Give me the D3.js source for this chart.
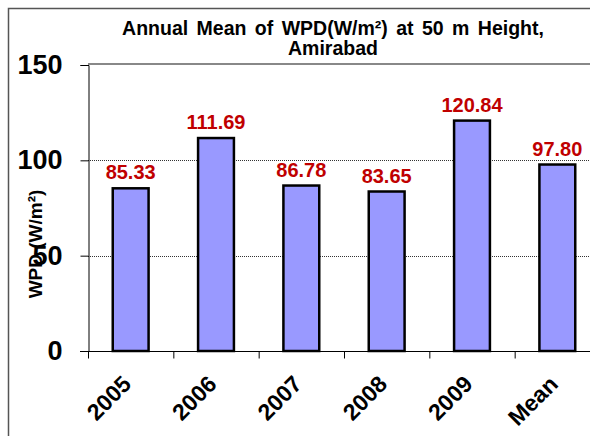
<!DOCTYPE html>
<html>
<head>
<meta charset="utf-8">
<script src="https://cdn.jsdelivr.net/npm/d3@7"></script>
<style>
  body { margin: 0; background: #fff; }
  text { font-family: "Liberation Sans", Arial, sans-serif; font-weight: bold; }
</style>
</head>
<body>
<svg></svg>
<script>
const categories = ["2005", "2006", "2007", "2008", "2009", "Mean"];
const wpdValues = [85.33, 111.69, 86.78, 83.65, 120.84, 97.80];
const yTicks = [0, 50, 100, 150];
const titleLines = ["Annual Mean of WPD(W/m²) at 50 m Height,", "Amirabad"];

const width = 590;
const height = 436;
const plotLeft = 88, plotTop = 65, plotBottom = 351, plotRight = 600;

const svg = d3.select("svg").attr("width", width).attr("height", height);

// outer chart frame (runs off the right/bottom of the picture)
svg.append("rect")
  .attr("x", 8.5).attr("y", 8.5)
  .attr("width", 700).attr("height", 600)
  .attr("fill", "none").attr("stroke", "#555").attr("stroke-width", 1.5);

const x = d3.scaleBand().domain(categories).range([plotLeft, plotRight]);
const y = d3.scaleLinear().domain([0, 150]).range([plotBottom, plotTop]);

// plot area top border
svg.append("line")
  .attr("x1", plotLeft).attr("x2", width).attr("y1", plotTop - 1).attr("y2", plotTop - 1)
  .attr("stroke", "#888").attr("stroke-width", 2);

// dotted gridlines
svg.append("g")
  .selectAll("line")
  .data([50, 100])
  .join("line")
  .attr("x1", plotLeft).attr("x2", width)
  .attr("y1", (d) => Math.round(y(d)) + 0.5).attr("y2", (d) => Math.round(y(d)) + 0.5)
  .attr("stroke", "#333").attr("stroke-dasharray", "1,1");

// bars
const barW = x.step() * 0.42;
svg.append("g")
  .selectAll("rect")
  .data(wpdValues)
  .join("rect")
  .attr("x", (d, i) => x(categories[i]) + (x.step() - barW) / 2)
  .attr("y", (d) => y(d))
  .attr("width", barW)
  .attr("height", (d) => y(0) - y(d))
  .attr("fill", "#9999ff")
  .attr("stroke", "#000")
  .attr("stroke-width", 2.5);

// value labels
svg.append("g")
  .selectAll("text")
  .data(wpdValues)
  .join("text")
  .attr("x", (d, i) => x(categories[i]) + x.step() / 2)
  .attr("y", (d) => y(d) - 9)
  .attr("text-anchor", "middle")
  .attr("font-size", 20)
  .attr("fill", "#c00000")
  .text((d) => d.toFixed(2));

// y axis
const yAxis = svg.append("g")
  .attr("transform", `translate(${plotLeft + 0.5},0)`)
  .call(d3.axisLeft(y).tickValues(yTicks).tickSize(8).tickPadding(18));
yAxis.select(".domain").attr("stroke", "#000");
yAxis.selectAll("text").attr("font-size", 27).attr("fill", "#000")
  .attr("font-family", "Liberation Sans, Arial, sans-serif");

// x axis
const xAxis = svg.append("g")
  .attr("transform", `translate(0,${plotBottom + 0.5})`);
xAxis.append("line")
  .attr("x1", plotLeft - 8).attr("x2", width).attr("stroke", "#000");
xAxis.selectAll("line.tick")
  .data(categories)
  .join("line")
  .attr("class", "tick")
  .attr("x1", (d) => x(d) + 0.5).attr("x2", (d) => x(d) + 0.5)
  .attr("y1", 0).attr("y2", 7)
  .attr("stroke", "#000");
xAxis.selectAll("text")
  .data(categories)
  .join("text")
  .attr("transform", (d) => `translate(${x(d) + x.step() / 2 + 2},${34}) rotate(-45)`)
  .attr("text-anchor", "end")
  .attr("font-size", 23)
  .text((d) => d);

// y axis title
svg.append("text")
  .attr("transform", "translate(42,244) rotate(-90)")
  .attr("text-anchor", "middle")
  .attr("font-size", 19)
  .text("WPD (W/m²)");

// chart title
svg.append("g")
  .selectAll("text")
  .data(titleLines)
  .join("text")
  .attr("x", 333)
  .attr("y", (d, i) => 35 + i * 20)
  .attr("text-anchor", "middle")
  .attr("font-size", 19.5)
  .attr("word-spacing", 3)
  .text((d) => d);
</script>
</body>
</html>
